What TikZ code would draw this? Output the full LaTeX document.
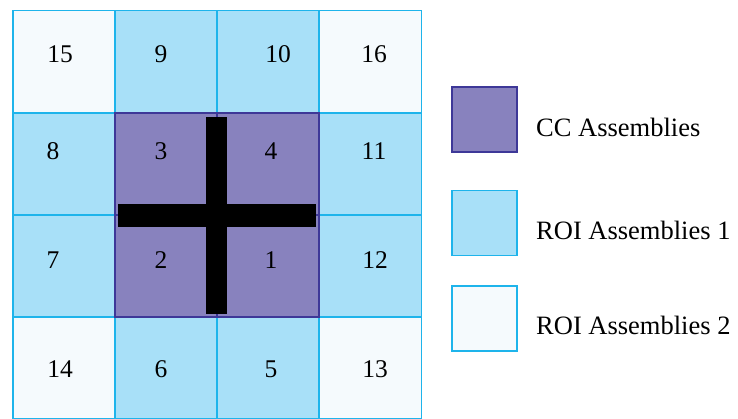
\documentclass[tikz,border=0pt]{standalone}
\usepackage{fontspec}
\setmainfont{Liberation Serif}
\definecolor{ccfill}{RGB}{136,130,190}
\definecolor{ccline}{RGB}{62,56,152}
\definecolor{roifill}{RGB}{168,224,248}
\definecolor{roiline}{RGB}{30,180,235}
\definecolor{roitwo}{RGB}{245,250,253}
\tikzset{
  cellbox/.style={draw, line width=1.6pt, minimum width=102.3pt, minimum height=102.3pt, inner sep=0pt, outer sep=0pt},
  ccbox/.style={cellbox, fill=ccfill, draw=ccline},
  roione/.style={cellbox, fill=roifill, draw=roiline},
  roitwobox/.style={cellbox, fill=roitwo, draw=roiline},
  legbox/.style={draw, line width=1.6pt, minimum width=65pt, minimum height=65pt, inner sep=0pt},
  num/.style={font=\fontsize{25.5}{30}\selectfont, inner sep=0pt},
  legtext/.style={font=\fontsize{26.5}{30}\selectfont, anchor=west, inner sep=0pt},
}
\begin{document}
\begin{tikzpicture}[x=1pt,y=-1pt]
\useasboundingbox (0,0) rectangle (738,418);
% cells (centres)
\node[roitwobox] (c15) at (64.2,61.5) {};
\node[roione]    (c9)  at (166.3,61.5) {};
\node[roione]    (c10) at (268,61.5) {};
\node[roitwobox] (c16) at (370.3,61.5) {};
\node[roione]    (c8)  at (64.2,164) {};
\node[roione]    (c11) at (370.3,164) {};
\node[roione]    (c7)  at (64.2,266) {};
\node[roione]    (c12) at (370.3,266) {};
\node[roitwobox] (c14) at (64.2,368) {};
\node[roione]    (c6)  at (166.3,368) {};
\node[roione]    (c5)  at (268,368) {};
\node[roitwobox] (c13) at (370.3,368) {};
\node[ccbox] (c3) at (166.3,164) {};
\node[ccbox] (c4) at (268,164) {};
\node[ccbox] (c2) at (166.3,266) {};
\node[ccbox] (c1) at (268,266) {};
% cross
\fill[black] (206,117) rectangle (227,314);
\fill[black] (118,204) rectangle (316,227);
% labels
\node[num] (l15) at (60,54) {15};
\node[num] (l9)  at (161,54) {9};
\node[num] (l10) at (278,54) {10};
\node[num] (l16) at (374,54) {16};
\node[num] (l8)  at (53,151) {8};
\node[num] (l3)  at (161,151) {3};
\node[num] (l4)  at (271,151) {4};
\node[num] (l11) at (374,151) {11};
\node[num] (l7)  at (53,260) {7};
\node[num] (l2)  at (161,260) {2};
\node[num] (l1)  at (271,260) {1};
\node[num] (l12) at (375,260) {12};
\node[num] (l14) at (60,369) {14};
\node[num] (l6)  at (161,369) {6};
\node[num] (l5)  at (271,369) {5};
\node[num] (l13) at (375,369) {13};
% legend
\node[legbox, fill=ccfill, draw=ccline] (k1) at (484.5,119.5) {};
\node[legbox, fill=roifill, draw=roiline] (k2) at (484.5,223) {};
\node[legbox, fill=roitwo, draw=roiline] (k3) at (484.5,318.5) {};
\node[legtext] (t1) at (536,127) {CC Assemblies};
\node[legtext] (t2) at (536,230) {ROI Assemblies 1};
\node[legtext] (t3) at (536,325) {ROI Assemblies 2};
\end{tikzpicture}
\end{document}
